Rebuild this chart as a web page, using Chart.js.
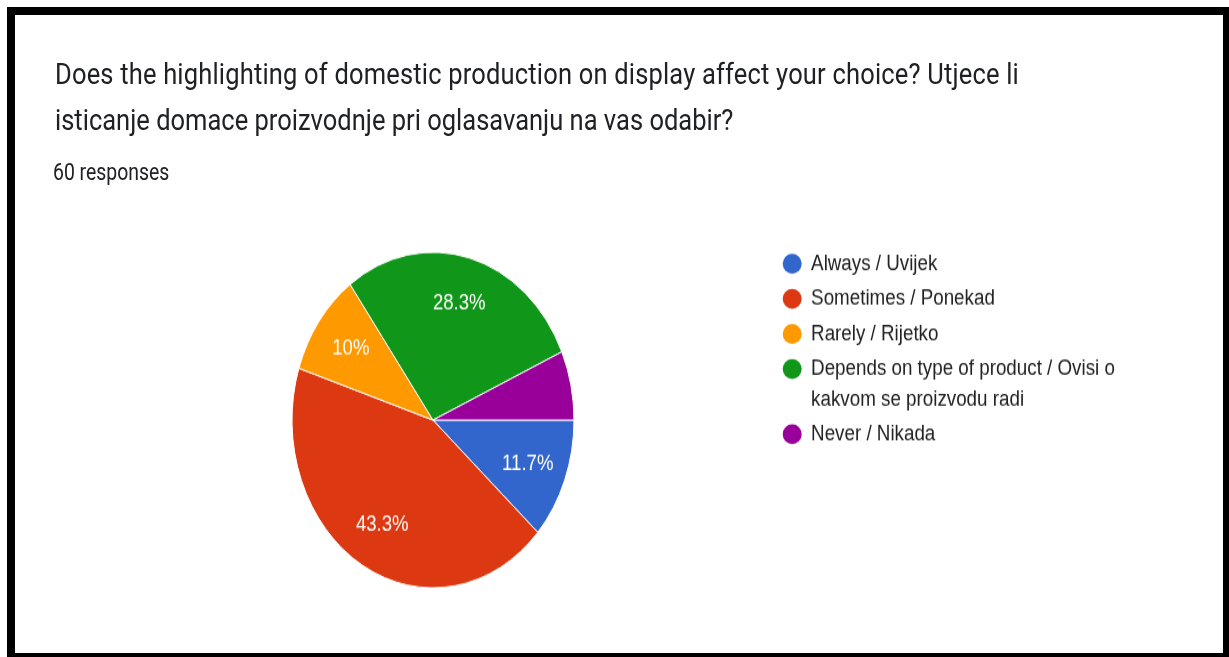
<!DOCTYPE html>
<html>
<head>
<meta charset="utf-8">
<script src="https://cdn.jsdelivr.net/npm/chart.js@4.4.1/dist/chart.umd.min.js"></script>
<style>
  html, body { margin: 0; padding: 0; background: #fff; }
  body { width: 1229px; height: 657px; position: relative; overflow: hidden; }
  #frame { position: absolute; left: 7px; top: 7px; width: 1222px; height: 650px; background: #000; }
  #card { position: absolute; left: 15px; top: 15px; width: 1208px; height: 638px; background: #fff; }
  /* the reference is stretched vertically, so lay out flat and stretch the whole sheet */
  #sheet { position: absolute; left: 0; top: 0; width: 1229px; height: 552px;
           transform: scaleY(1.19); transform-origin: 0 0; }
  .title { position: absolute; left: 55px; top: 44px; font-family: Roboto, sans-serif;
           font-size: 25.5px; line-height: 37.8px; color: #202124; white-space: nowrap; }
  .title .l1 { letter-spacing: 0.18px; }
  .count { position: absolute; left: 53px; top: 134.5px; font-family: Roboto, sans-serif;
           font-size: 19.4px; line-height: 20px; color: #202124; }
  #chart { position: absolute; left: 0; top: 208px; }
</style>
</head>
<body>
<div id="frame"></div>
<div id="card"></div>
<div id="sheet">
  <div class="title"><span class="l1">Does the highlighting of domestic production on display affect your choice? Utjece li</span><br>isticanje domace proizvodnje pri oglasavanju na vas odabir?</div>
  <div class="count">60 responses</div>
  <canvas id="chart" width="1229" height="290"></canvas>
</div>
<script>
// answers (legend text, already wrapped like the original)
var categories = [
  ['Always / Uvijek'],
  ['Sometimes / Ponekad'],
  ['Rarely / Rijetko'],
  ['Depends on type of product / Ovisi o', 'kakvom se proizvodu radi'],
  ['Never / Nikada']
];
// number of responses out of 60
var responses = [7, 26, 6, 17, 4];
var colours = ['#3366cc', '#dc3912', '#ff9900', '#109618', '#990099'];

// percentage text on the slices, small ones are left blank like google forms does
var sliceLabels = {
  id: 'sliceLabels',
  afterDatasetsDraw: function (chart) {
    var ctx = chart.ctx;
    var meta = chart.getDatasetMeta(0);
    var total = responses.reduce(function (a, b) { return a + b; }, 0);
    ctx.save();
    ctx.fillStyle = '#ffffff';
    ctx.font = '18.6px "Liberation Sans", Arial, sans-serif';
    ctx.textAlign = 'center';
    ctx.textBaseline = 'middle';
    meta.data.forEach(function (arc, i) {
      var share = responses[i] / total;
      if (share < 0.08) return;
      var p = arc.getProps(['x', 'y', 'startAngle', 'endAngle', 'outerRadius'], true);
      var mid = (p.startAngle + p.endAngle) / 2;
      var r = p.outerRadius * 0.72;
      var txt = (Math.round(share * 1000) / 10) + '%';
      ctx.fillText(txt, p.x + Math.cos(mid) * r, p.y + Math.sin(mid) * r);
    });
    ctx.restore();
  }
};

var ctx = document.getElementById('chart').getContext('2d');
var pieChart = new Chart(ctx, {
  type: 'pie',
  data: {
    labels: categories,
    datasets: [{
      data: responses,
      backgroundColor: colours,
      borderColor: '#ffffff',
      borderWidth: 1,
      radius: 141
    }]
  },
  options: {
    responsive: false,
    animation: false,
    rotation: 90,
    layout: { padding: { left: 87.5, right: 100, top: 0, bottom: 0 } },
    plugins: {
      tooltip: { enabled: false },
      legend: {
        position: 'right',
        align: 'start',
        labels: {
          usePointStyle: true,
          pointStyle: 'circle',
          pointStyleWidth: 19,
          boxHeight: 11.9,
          padding: 4.2,
          color: '#222222',
          font: { family: '"Liberation Sans", Arial, sans-serif', size: 18.8, lineHeight: 1.346 },
          generateLabels: function (chart) {
            var items = Chart.overrides.pie.plugins.legend.labels.generateLabels(chart);
            items.forEach(function (it) { it.lineWidth = 0; });
            return items;
          }
        }
      }
    }
  },
  plugins: [sliceLabels]
});

// push the legend so its left edge sits at x=778.5 (pie centre stays at 433)
pieChart.options.layout.padding.right = 1229 - 778.5 - pieChart.legend.width;
pieChart.update();
</script>
</body>
</html>
